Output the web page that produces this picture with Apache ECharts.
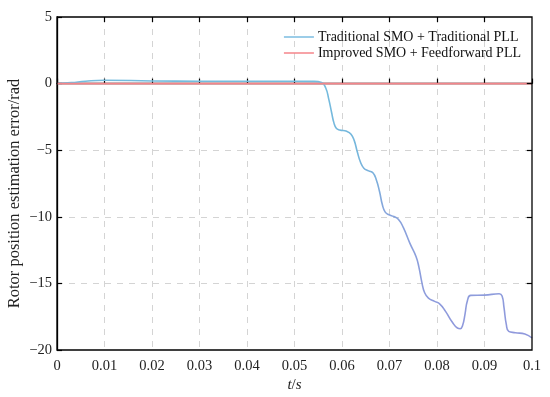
<!DOCTYPE html>
<html><head><meta charset="utf-8">
<script src="https://cdn.jsdelivr.net/npm/echarts@6/dist/echarts.min.js"></script>
<style>html,body{margin:0;padding:0;background:#fff}#c{width:550px;height:397px}</style>
</head><body><div id="c"></div>
<script>
const seriesNames = ['Traditional SMO + Traditional PLL', 'Improved SMO + Feedforward PLL'];
const tradT = [0, 0.003, 0.006, 0.01, 0.02, 0.03, 0.04, 0.05, 0.054, 0.0557, 0.0566, 0.0572, 0.0578, 0.0583, 0.0588, 0.0595, 0.061, 0.0619, 0.0626, 0.0632, 0.0639, 0.0646, 0.0656, 0.0665, 0.0672, 0.0679, 0.0685, 0.0691, 0.0699, 0.0709, 0.0719, 0.0729, 0.0743, 0.0756, 0.0762, 0.0768, 0.0774, 0.0782, 0.0795, 0.0806, 0.0818, 0.0832, 0.0843, 0.0849, 0.0854, 0.0859, 0.0864, 0.0871, 0.09, 0.0931, 0.0937, 0.0941, 0.0946, 0.0951, 0.0965, 0.0985, 0.1];
const tradV = [0, 0.07, 0.18, 0.25, 0.2, 0.18, 0.18, 0.18, 0.17, 0.08, -0.35, -1.15, -2.15, -2.95, -3.35, -3.48, -3.58, -3.8, -4.3, -5.1, -5.9, -6.35, -6.55, -6.7, -7.2, -8.1, -9.1, -9.65, -9.85, -9.98, -10.2, -10.8, -12, -13.0, -13.8, -14.9, -15.7, -16.1, -16.35, -16.55, -17.1, -17.9, -18.35, -18.4, -18.15, -17.3, -16.3, -15.9, -15.88, -15.78, -15.95, -16.8, -18.1, -18.6, -18.7, -18.8, -19.1];
const impT = [0, 0.1];
const impV = [0, 0];
const xTicks = [0, 0.01, 0.02, 0.03, 0.04, 0.05, 0.06, 0.07, 0.08, 0.09, 0.1];
const yTicks = [-20, -15, -10, -5, 0, 5];

const serif = '"Liberation Serif", "DejaVu Serif", serif';
const chart = echarts.init(document.getElementById('c'), null, {renderer: 'canvas'});
const pair = (a, b) => a.map((v, i) => [v, b[i]]);
const fmtNum = v => String(Math.round(v * 1000) / 1000).replace('-', '\u2212');
const split = {show: true, showMinLine: false, showMaxLine: false, lineStyle: {color: '#d4d4d4', type: [6, 6], width: 1}};
chart.setOption({
  animation: false,
  backgroundColor: '#fff',
  grid: {left: 57, right: 18, top: 17, bottom: 47, containLabel: false, outerBoundsMode: 'none', show: true, borderColor: '#000', borderWidth: 1.3, backgroundColor: 'transparent', z: 5},
  legend: {
    top: 25, right: 24, orient: 'vertical', itemGap: 2, itemWidth: 30, itemHeight: 14,
    data: seriesNames.map(n => ({name: n, icon: 'path://M0,0 L30,0 L30,1.5 L0,1.5 Z'})),
    textStyle: {fontFamily: serif, fontSize: 14, color: '#111', padding: [0, 0, 0, -1]},
    backgroundColor: 'transparent'
  },
  xAxis: {
    type: 'value', min: 0, max: 0.1, interval: 0.01,
    name: '{i|t}{n|/}{i|s}', nameLocation: 'middle', nameGap: 28, nameMoveOverlap: false,
    nameTextStyle: {rich: {i: {fontFamily: serif, fontStyle: 'italic', fontSize: 15, color: '#222'}, n: {fontFamily: serif, fontSize: 15, color: '#222'}}},
    axisLine: {show: true, lineStyle: {color: '#000', width: 1.3}},
    axisTick: {show: true, inside: true, length: 5, lineStyle: {color: '#000', width: 1.2}},
    axisLabel: {fontFamily: serif, fontSize: 14.5, color: '#222', margin: 9, formatter: fmtNum},
    splitLine: split
  },
  yAxis: {
    type: 'value', min: -20, max: 5, interval: 5,
    name: 'Rotor position estimation error/rad', nameLocation: 'middle', nameGap: 34, nameMoveOverlap: false,
    nameTextStyle: {fontFamily: serif, fontSize: 16.5, color: '#222', padding: [0, 20, 0, 0]},
    axisLine: {show: true, lineStyle: {color: '#000', width: 1.3}},
    axisTick: {show: true, inside: true, length: 5, lineStyle: {color: '#000', width: 1.2}},
    axisLabel: {fontFamily: serif, fontSize: 14.5, color: '#222', margin: 5, formatter: fmtNum},
    splitLine: split
  },
  series: [
    {
      name: seriesNames[0], type: 'line', data: pair(tradT, tradV), showSymbol: false, symbol: 'none',
      smooth: 0.5,
      color: '#7bbde0',
      lineStyle: {width: 1.6, color: {type: 'linear', x: 0, y: 0, x2: 0, y2: 1, colorStops: [
        {offset: 0, color: '#74bcde'}, {offset: 0.3, color: '#76b6dc'}, {offset: 0.55, color: '#8aa2dc'}, {offset: 1, color: '#9098dc'}]}},
      z: 2
    },
    {
      name: seriesNames[1], type: 'line', data: pair(impT, impV), showSymbol: false, symbol: 'none',
      color: '#f4858a', lineStyle: {width: 1.6, color: '#f4858a'}, z: 3
    },
    {
      type: 'line', data: [], markLine: {silent: true, symbol: 'none', label: {show: false},
        lineStyle: {color: '#000', type: 'solid', width: 1.2},
        data: xTicks.slice(1, -1).map(t => [{coord: [t, 5]}, {coord: [t, 4.62]}]).concat(
              yTicks.slice(1, -1).map(v => [{coord: [0.1, v]}, {coord: [0.0989, v]}]))}
    }
  ]
});
</script></body></html>
